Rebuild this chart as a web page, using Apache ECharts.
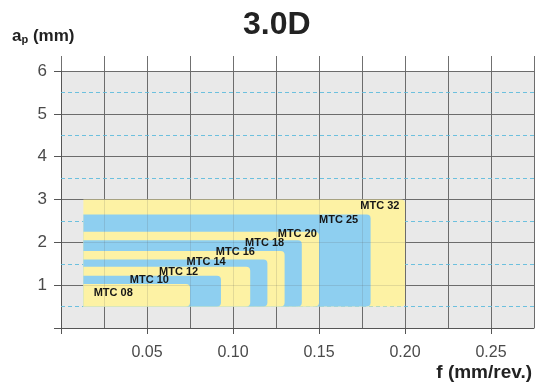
<!DOCTYPE html>
<html>
<head>
<meta charset="utf-8">
<script src="https://cdn.jsdelivr.net/npm/echarts@6/dist/echarts.min.js"></script>
<style>
  html, body { margin: 0; padding: 0; background: #fff; }
  #main { width: 544px; height: 390px; }
</style>
</head>
<body>
<div id="main"></div>
<script>
// tool sizes, smallest first
const sizes = ['MTC 08', 'MTC 10', 'MTC 12', 'MTC 14', 'MTC 16', 'MTC 18', 'MTC 20', 'MTC 25', 'MTC 32'];
// upper feed limit f (mm/rev.) and upper depth ap (mm) of each area
const feedMax = [0.075, 0.093, 0.11, 0.12, 0.13, 0.14, 0.15, 0.18, 0.20];
const apMax = [1.03, 1.22, 1.43, 1.6, 1.8, 2.05, 2.25, 2.65, 3.0];
// every area starts here
const feedStart = 0.013;
const apStart = 0.5;
// where each tag sits (left end of text, middle)
const labelFeed = [0.019, 0.040, 0.057, 0.073, 0.090, 0.107, 0.126, 0.150, 0.174];
const labelAp = [0.82, 1.11, 1.31, 1.55, 1.77, 1.98, 2.2, 2.52, 2.86];
// axis ticks
const xTicks = [0, 0.05, 0.10, 0.15, 0.20, 0.25];
const halfLines = [0.5, 1.5, 2.5, 3.5, 4.5, 5.5];

const FONT = '"Liberation Sans", Arial, sans-serif';
const YELLOW = '#fdf2a4';
const BLUE = '#8ecff0';
const GRIDLINE = '#707070';

const chart = echarts.init(document.getElementById('main'));

// largest first so the smaller ones are drawn on top
const boxes = [];
for (let i = sizes.length - 1; i >= 0; i--) {
  boxes.push({
    value: [feedStart, feedMax[i], apStart, apMax[i]],
    itemStyle: { color: i % 2 ? BLUE : YELLOW }
  });
}
const tags = sizes.map((s, i) => ({ name: s, value: [labelFeed[i], labelAp[i]] }));

function renderBox(params, api) {
  const tl = api.coord([api.value(0), api.value(3)]);
  const br = api.coord([api.value(1), api.value(2)]);
  return {
    type: 'rect',
    shape: { x: tl[0], y: tl[1], width: br[0] - tl[0], height: br[1] - tl[1], r: [0, 4, 4, 0] },
    style: { fill: api.visual('color') }
  };
}

function renderTag(params, api) {
  const p = api.coord([api.value(0), api.value(1)]);
  return {
    type: 'text',
    x: p[0], y: p[1],
    style: {
      text: sizes[params.dataIndex],
      font: 'bold 11px ' + FONT,
      fill: '#161616',
      align: 'left',
      verticalAlign: 'middle'
    }
  };
}

const xBase = { type: 'value', min: 0, max: 0.275, interval: 0.025 };
const hidden = { axisLine: { show: false }, axisTick: { show: false }, axisLabel: { show: false } };

const option = {
  animation: false,
  title: [
    { text: '3.0D', left: 243, top: 9, padding: 0,
      textStyle: { fontSize: 32, fontWeight: 'bold', color: '#222', fontFamily: FONT } },
    { text: '{a|a}{p|p}{a| (mm)}', left: 12, top: 28, padding: 0,
      textStyle: { rich: {
        a: { fontSize: 17, fontWeight: 'bold', color: '#222', fontFamily: FONT },
        p: { fontSize: 11, fontWeight: 'bold', color: '#222', fontFamily: FONT, verticalAlign: 'bottom', padding: [5, 0, 0, 0] }
      } } },
    { text: 'f (mm/rev.)', right: 12, top: 363, padding: 0,
      textStyle: { fontSize: 19, fontWeight: 'bold', color: '#222', fontFamily: FONT } }
  ],
  grid: [
    { left: 61, right: 10, top: 71, bottom: 62, show: true, backgroundColor: '#e9e9e9', borderWidth: 0 },
    { left: 61, right: 10, top: 56, height: 15 }
  ],
  xAxis: [
    Object.assign({}, xBase, {
      gridIndex: 0, position: 'bottom',
      axisLine: { show: true, lineStyle: { color: '#555' } },
      axisTick: { show: false }, axisLabel: { show: false },
      splitLine: { show: true, lineStyle: { color: GRIDLINE } }
    }),
    Object.assign({}, xBase, {
      gridIndex: 0, position: 'bottom', interval: 0.05,
      axisLine: { show: false },
      axisTick: { show: true, length: 6, customValues: xTicks, lineStyle: { color: '#555' } },
      axisLabel: {
        customValues: xTicks.slice(1), margin: 17, fontSize: 16, color: '#4a4a4a', fontFamily: FONT,
        formatter: v => (v > 0 && v < 0.26) ? v.toFixed(2) : ''
      },
      splitLine: { show: false }
    }),
    Object.assign({}, xBase, hidden, {
      gridIndex: 0, z: 5,
      splitLine: { show: true, lineStyle: { color: 'rgba(90,90,90,0.16)' } }
    }),
    Object.assign({}, xBase, hidden, {
      gridIndex: 1,
      splitLine: { show: true, lineStyle: { color: GRIDLINE } }
    })
  ],
  yAxis: [
    {
      type: 'value', gridIndex: 0, min: 0, max: 6, interval: 1,
      axisLine: { show: true, lineStyle: { color: '#555' } },
      axisTick: { show: true, length: 7, lineStyle: { color: '#555' } },
      axisLabel: { margin: 14, fontSize: 17, color: '#4a4a4a', fontFamily: FONT,
        formatter: v => v === 0 ? '' : String(v) },
      splitLine: { show: true, lineStyle: { color: GRIDLINE } }
    },
    Object.assign({ type: 'value', gridIndex: 0, min: 0, max: 6, interval: 1, z: 5 }, hidden, {
      splitLine: { show: true, lineStyle: { color: 'rgba(90,90,90,0.16)' } }
    }),
    { type: 'value', gridIndex: 1, min: 0, max: 1, show: false }
  ],
  series: [
    {
      type: 'custom', name: 'areas', xAxisIndex: 0, yAxisIndex: 0, z: 2,
      renderItem: renderBox, data: boxes,
      markLine: {
        silent: true, symbol: 'none', z: 1, animation: false,
        label: { show: false },
        lineStyle: { color: '#6cc0de', type: [4, 3], width: 1 },
        data: halfLines.map(v => ({ yAxis: v }))
      }
    },
    {
      type: 'custom', name: 'tags', xAxisIndex: 0, yAxisIndex: 0, z: 4,
      renderItem: renderTag, data: tags
    }
  ]
};

chart.setOption(option);
</script>
</body>
</html>
